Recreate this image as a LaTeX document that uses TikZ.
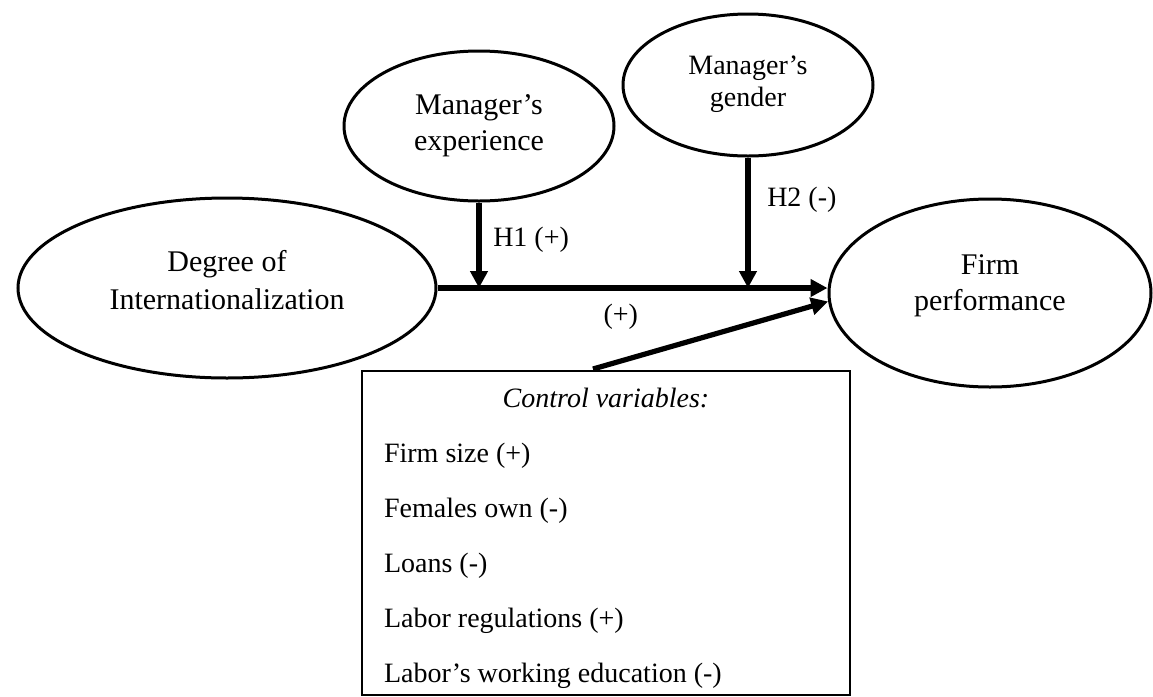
\documentclass[tikz,border=0pt]{standalone}
\usepackage{fontspec}
\setmainfont{Liberation Serif}
\usetikzlibrary{shapes.geometric,arrows.meta}

\tikzset{
	latent/.style={ellipse, draw, line width=1.5pt, inner sep=0pt, align=center},
	effect/.style={->, line width=2.6pt},
	lbl/.style={font=\fontsize{14}{16}\selectfont},
}

\begin{document}
\begin{tikzpicture}[>={Triangle[length=8.5pt,width=8.5pt]}, x=0.5pt, y=-0.5pt]
	\useasboundingbox (0,0) rectangle (1153,697);
	
	
	\node[latent, minimum width=209pt, minimum height=90pt, text depth=8pt, font=\fontsize{15}{19}\selectfont] (doi) at (227,288) {Degree of\\Internationalization};
	\node[latent, minimum width=135pt, minimum height=75pt, font=\fontsize{15}{18}\selectfont] (exp) at (479,126) {Manager's\\experience};
	\node[latent, minimum width=125pt, minimum height=71pt, text depth=4pt, font=\fontsize{14}{16}\selectfont] (gen) at (748,85) {Manager's\\gender};
	\node[latent, minimum width=161pt, minimum height=94pt, text depth=10pt, font=\fontsize{15}{18}\selectfont] (perf) at (990,293) {Firm\\performance};
	
	
	\draw[effect] (doi.east) -- (doi.east -| perf.west) node[lbl, pos=.47, below=3.5pt] (plus) {(+)};
	
	\draw[effect] (exp.south) -- (exp.south |- doi.east) node[lbl, pos=.44, right=2.5pt] (h1) {H1 (+)};
	\draw[effect] (gen.south) -- (gen.south |- doi.east) node[lbl, pos=.32, right=5pt] (h2) {H2 (-)};
	
	
	% control variables
	\node[draw, line width=1.4pt, minimum width=244pt, minimum height=162pt] (ctrl) at (606,533) {};
	\node[lbl, anchor=base, font=\fontsize{14}{16}\selectfont\itshape] (ctitle) at (606,407) {Control variables:};
	\foreach \txt [count=\i] in {Firm size (+), Females own (-), Loans (-), Labor regulations (+), Labor's working education (-)}
		\node[lbl, anchor=base west] (item\i) at (377,{407+55*\i}) {\txt};
	
	\coordinate (cv) at (593,369);
	\draw[effect] (cv) -- (perf.183);
	
\end{tikzpicture}
\end{document}
